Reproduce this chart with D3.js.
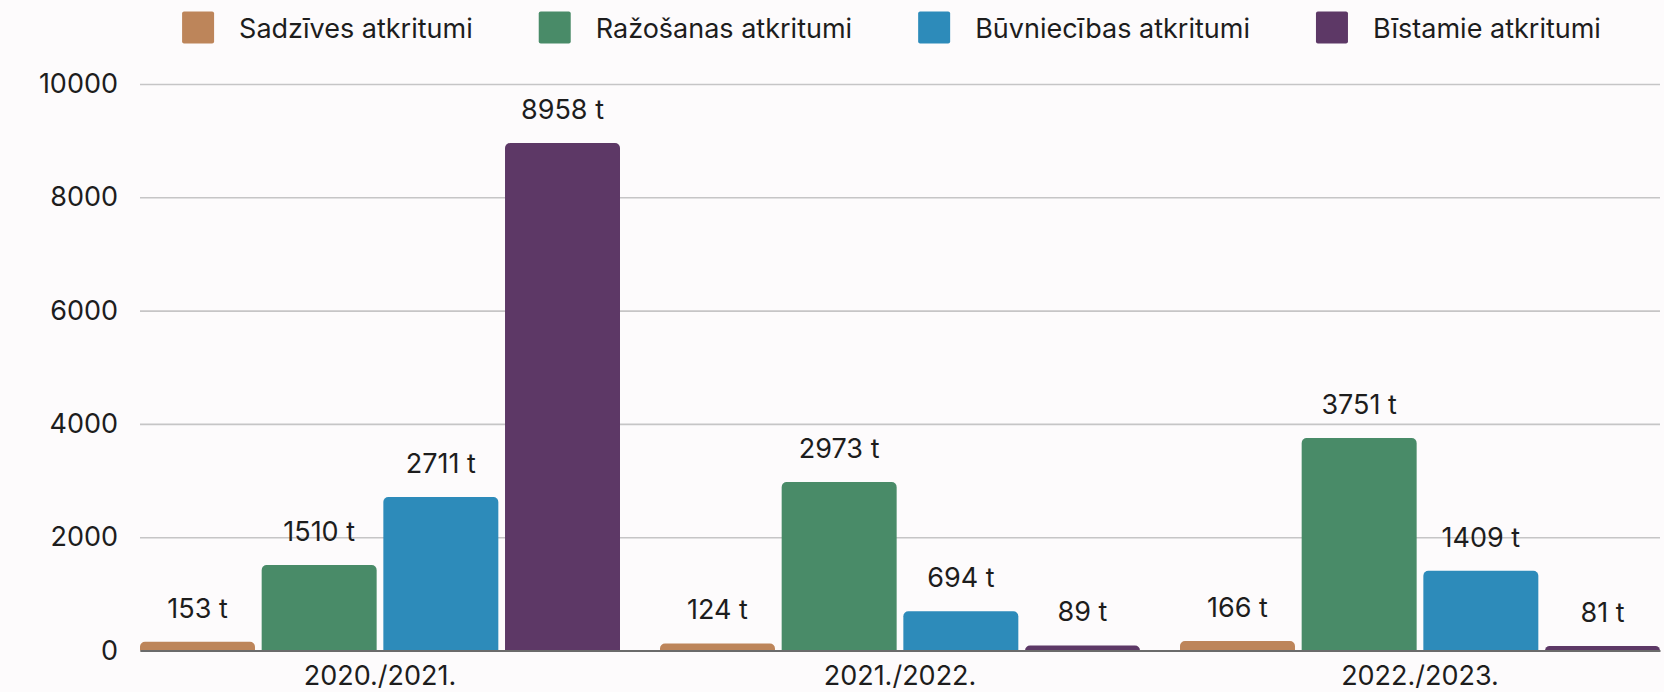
<!DOCTYPE html>
<html lang="lv">
<head>
<meta charset="utf-8">
<title>Atkritumi</title>
<script src="https://cdn.jsdelivr.net/npm/d3@7"></script>
<style>
    html, body { margin: 0; padding: 0; background: #fdfbfc; }
    #chart { width: 1664px; height: 692px; }
    text { font-family: Inter, 'Noto Sans', sans-serif; fill: #1d1d1d; }
</style>
</head>
<body>
<div id="chart"></div>
<script>
///// DATOS /////
let years = ['2020./2021.', '2021./2022.', '2022./2023.'];
let seriesNames = ['Sadzīves atkritumi', 'Ražošanas atkritumi', 'Būvniecības atkritumi', 'Bīstamie atkritumi'];
let sadzives = [153, 124, 166];
let razosanas = [1510, 2973, 3751];
let buvniecibas = [2711, 694, 1409];
let bistamie = [8958, 89, 81];
let yTicks = [0, 2000, 4000, 6000, 8000, 10000];
let colors = ['#bd855a', '#498b68', '#2d8bba', '#5d3866'];

let seriesValues = [sadzives, razosanas, buvniecibas, bistamie];

///// GRÁFICO /////
let chartBlock = d3.select('#chart');
let margin = {top: 84, right: 4, bottom: 41.5, left: 140};
let width = 1664 - margin.left - margin.right,
    height = 692 - margin.top - margin.bottom;
let fontSize = 27;

let svg = chartBlock.append('svg')
    .attr('width', 1664)
    .attr('height', 692);

let chart = svg.append('g')
    .attr('transform', 'translate(' + margin.left + ',' + margin.top + ')');

//Escalas
let x0 = d3.scaleBand()
    .domain(years)
    .range([0, width])
    .paddingInner(40 / 520)
    .paddingOuter(0);

let x1 = d3.scaleBand()
    .domain(seriesNames)
    .range([0, x0.bandwidth()])
    .paddingInner(0.055)
    .paddingOuter(0);

let y = d3.scaleLinear()
    .domain([0, 10000])
    .range([height, 0]);

//Eje Y con líneas de fondo
chart.append('g')
    .call(d3.axisLeft(y).tickValues(yTicks).tickFormat(function(d) { return d; }).tickSize(-width).tickPadding(22))
    .call(function(g) { g.select('.domain').remove(); })
    .call(function(g) {
        g.selectAll('.tick line').attr('stroke', '#c6c5c6').attr('stroke-width', 1.6);
        g.selectAll('.tick text').attr('font-size', fontSize).attr('fill', '#1d1d1d')
            .style('font-family', "Inter, 'Noto Sans', sans-serif");
    });

//Barras con esquinas superiores redondeadas
function topRounded(x, yy, w, h, r) {
    r = Math.min(r, h, w / 2);
    return 'M' + x + ',' + (yy + h) +
        'V' + (yy + r) +
        'A' + r + ',' + r + ' 0 0 1 ' + (x + r) + ',' + yy +
        'H' + (x + w - r) +
        'A' + r + ',' + r + ' 0 0 1 ' + (x + w) + ',' + (yy + r) +
        'V' + (yy + h) + 'Z';
}

let rows = years.map(function(yr, i) {
    return {
        year: yr,
        values: seriesNames.map(function(name, j) { return {name: name, value: seriesValues[j][i], color: colors[j]}; })
    };
});

let groups = chart.selectAll('.group')
    .data(rows)
    .enter()
    .append('g')
    .attr('class', 'group')
    .attr('transform', function(d) { return 'translate(' + x0(d.year) + ',0)'; });

groups.selectAll('path')
    .data(function(d) { return d.values; })
    .enter()
    .append('path')
    .attr('fill', function(d) { return d.color; })
    .attr('d', function(d) {
        return topRounded(x1(d.name), y(d.value), x1.bandwidth(), height - y(d.value), 5);
    });

groups.selectAll('.label')
    .data(function(d) { return d.values; })
    .enter()
    .append('text')
    .attr('class', 'label')
    .attr('x', function(d) { return x1(d.name) + x1.bandwidth() / 2; })
    .attr('y', function(d) { return y(d.value) - 24; })
    .attr('text-anchor', 'middle')
    .attr('font-size', fontSize)
    .text(function(d) { return d.value + ' t'; });

//Eje X
chart.append('g')
    .attr('transform', 'translate(0,' + height + ')')
    .call(d3.axisBottom(x0).tickSize(0).tickPadding(15))
    .call(function(g) {
        g.select('.domain').attr('stroke', '#6b6b6b').attr('stroke-width', 2);
        g.selectAll('.tick text').attr('font-size', fontSize).attr('fill', '#1d1d1d')
            .style('font-family', "Inter, 'Noto Sans', sans-serif");
    });

//Leyenda
let legend = svg.append('g');
let legendX = 0;
seriesNames.forEach(function(name, i) {
    let item = legend.append('g').attr('transform', 'translate(' + legendX + ',0)');
    item.append('rect')
        .attr('x', 0).attr('y', 11.5)
        .attr('width', 32).attr('height', 32)
        .attr('rx', 2)
        .attr('fill', colors[i]);
    let t = item.append('text')
        .attr('x', 57).attr('y', 38.3)
        .attr('font-size', fontSize)
        .text(name);
    legendX += 57 + t.node().getComputedTextLength() + 66;
});
let legendWidth = legendX - 66;
legend.attr('transform', 'translate(' + (891.5 - legendWidth / 2) + ',0)');
</script>
</body>
</html>
